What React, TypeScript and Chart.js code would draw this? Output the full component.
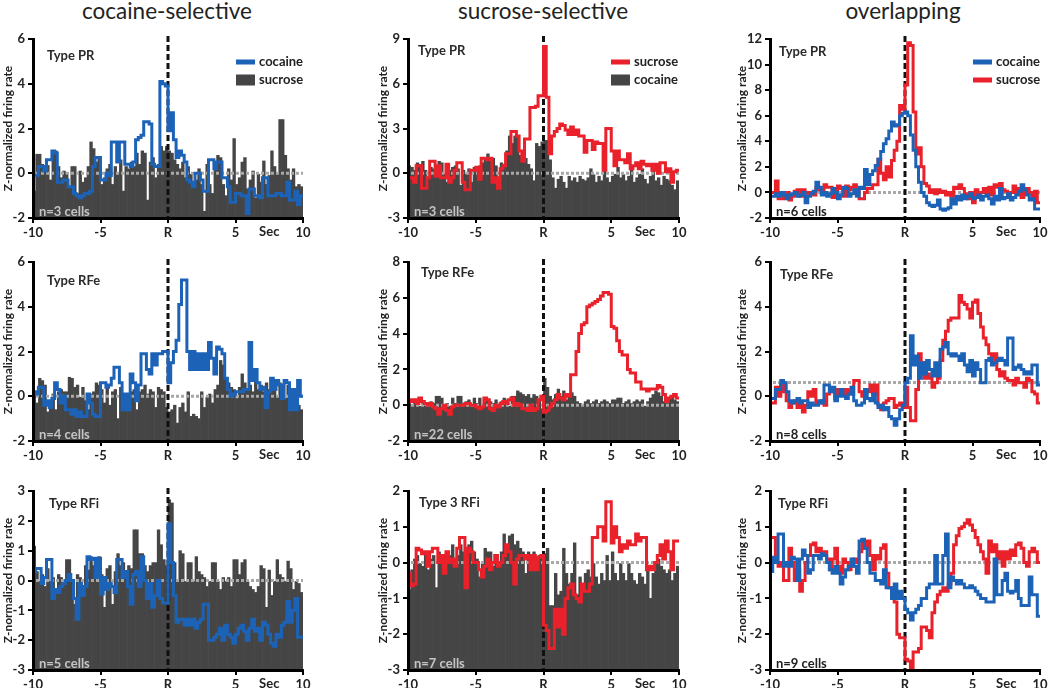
import React, { useEffect, useRef } from 'react';
import { Chart, registerables } from 'chart.js';

Chart.register(...registerables);

const FONT = 'Lato, "Open Sans", sans-serif';
const BAR_COLOR = '#454545';
const BLUE = '#1c63b7';
const RED = '#e8212b';

// ---- shared axis / bin definitions ----
const binStart = -10;
const binWidth = 0.2;
const xTickValues = [-10, -5, 0, 5, 10];
const xTickText = ['-10', '-5', 'R', '5', '10'];
const secLabel = 'Sec';
const columnTitles = ['cocaine-selective', 'sucrose-selective', 'overlapping'];
const typeLabels = ['Type PR', 'Type PR', 'Type PR', 'Type RFe', 'Type RFe', 'Type RFe', 'Type RFi', 'Type 3 RFi', 'Type RFi'];
const cellCounts = ['n=3 cells', 'n=3 cells', 'n=6 cells', 'n=4 cells', 'n=22 cells', 'n=8 cells', 'n=5 cells', 'n=7 cells', 'n=9 cells'];
const yMins = [-2, -3, -2, -2, -2, -2, -3, -3, -3];
const yMaxs = [6, 9, 12, 6, 8, 6, 3, 2, 2];
const ySteps = [2, 3, 2, 2, 2, 2, 1, 1, 1];
const baselines = [0, 0, 0, 0, 0, 0.62, 0, 0, 0];

// ---- Row 1: Type PR ----
const cocSelPR_sucrose = [
  -0.8, 0.85, 0.85, 0.4, 0.3, 0.35, -0.3, 0.9, 1.0, 0.3,
  -0.2, 0.1, 0.0, -0.6, 0.3, 0.3, -0.9, 0.1, -0.4, -0.2,
  0.3, 1.4, 1.1, 0.5, 0.7, -0.5, -0.2, 0.2, 0.4, -0.5,
  0.3, 0.0, 0.6, -0.8, 0.3, 0.2, 0.5, 0.3, 0.9, 0.4,
  1.0, 0.9, -1.2, 0.5, 0.7, -0.2, 0.4, 1.2, 1.0, 1.2,
  1.0, 0.9, 0.6, 0.4, 0.2, 0.5, -0.2, 0.3, 0.0, -0.4,
  -0.3, 0.2, -0.5, -1.7, 0.4, -0.5, -0.9, 0.2, 0.8, 0.7,
  -0.5, -1.0, 0.2, -0.3, 1.55, -0.5, -0.2, 0.5, 0.7, -0.7,
  -0.3, 0.1, -1.1, 0.0, -0.4, 0.55, -0.5, -0.1, 1.0, 0.3,
  0.0, 2.4, 2.4, 0.8, 0.2, -0.3, 0.2, -0.6, -0.5, -0.6,
];
const cocSelPR_cocaine = [
  -0.1, -0.1, 0.3, 0.3, 0.1, 0.6, 0.6, 1.0, 0.9, -0.4,
  -0.4, -0.3, -0.3, -0.6, -0.6, -0.9, -1.0, -1.1, -1.0, -0.9,
  -0.9, -0.8, 0.3, 0.7, 0.7, -0.3, -0.3, 0.0, -0.1, 1.4,
  1.4, 0.5, 1.4, 1.4, 0.4, 0.4, 0.3, 0.5, 1.5, 1.6,
  1.7, 2.3, 2.3, 2.2, 0.4, 0.3, 0.3, 4.1, 4.0, 3.9,
  1.9, 2.7, 1.5, 0.7, 1.0, 0.8, 0.5, -0.3, -0.4, -0.6,
  0.0, 0.0, -0.3, -0.8, -0.8, 0.6, 0.6, 0.2, 0.5, 0.5,
  -0.2, -0.2, -0.6, -1.3, -1.3, -0.9, -0.9, -1.0, -1.0, -1.8,
  -0.7, -0.7, -1.0, -1.0, -1.1, -0.2, -0.2, -1.0, -1.0, -1.0,
  -0.9, -0.9, -1.0, -1.0, -0.4, -1.2, -1.2, -0.8, -1.4, -1.0,
];
const sucSelPR_cocaine = [
  0.5, 0.4, 0.2, 0.7, 0.6, 0.8, 0.2, -0.4, 0.4, 0.3,
  0.5, 0.8, 0.7, 0.0, -0.6, 0.2, 0.4, 0.5, 0.3, -0.8,
  0.2, 0.0, 0.3, -0.6, 0.4, 0.1, 0.5, 0.7, 1.0, 1.3,
  0.9, 1.0, 0.5, -0.5, 0.7, 0.6, 1.5, 2.5, 2.0, 2.5,
  2.4, 1.2, 0.9, 1.0, 0.6, 0.3, -0.5, 2.0, 1.8, 2.1,
  2.2, 2.2, 0.9, -0.3, -1.0, -0.4, -0.2, -0.6, -1.0, -0.2,
  -0.5, -0.3, -0.6, -0.2, -0.4, -0.5, -0.3, 0.3, -0.1, -0.6,
  -0.2, -0.5, 0.4, -0.3, -0.6, -0.2, 0.0, 0.4, -0.3, -0.1,
  -0.5, -0.2, 0.3, -0.6, -0.3, 0.0, 0.3, -0.4, -0.7, -0.2,
  0.2, -0.5, -0.3, -0.8, -0.2, -0.4, -0.5, -0.8, -1.1, -0.5,
];
const sucSelPR_sucrose = [
  -0.3, -0.3, -0.6, 0.5, 0.5, -1.0, -1.0, -0.3, 0.8, 0.8,
  -0.2, 0.5, -0.3, -0.3, 0.6, -0.6, -0.3, 0.2, 0.7, 0.7,
  -0.6, -1.1, -1.1, 0.2, 0.2, 0.4, -0.4, 1.0, 1.0, 0.9,
  1.0, -0.6, -0.3, -1.0, 0.3, 0.5, 1.3, 1.3, 2.8, 2.8,
  2.5, 1.5, 0.8, 2.3, 2.3, 4.4, 4.4, 4.5, 5.2, 5.2,
  8.5, 5.1, 1.3, 2.5, 2.8, 3.0, 3.3, 3.2, 2.9, 2.6,
  3.1, 2.6, 2.9, 2.5, 2.5, 1.4, 2.2, 2.2, 1.6, 2.1,
  2.0, 2.0, 0.2, 3.0, 3.0, 1.5, 0.5, 1.5, 0.9, 0.9,
  0.7, 1.3, 0.3, 0.5, 0.7, 0.3, 0.8, 0.6, 0.5, 0.6,
  0.2, 0.6, 0.0, 0.7, 0.7, 0.1, 0.3, -0.6, 0.1, 0.2,
];
const ovlPR_cocaine = [
  -0.3, -0.3, -0.1, -0.3, 0.0, -0.2, -0.5, -0.2, -0.1, 0.0,
  -0.3, -0.2, 0.0, -0.8, -0.3, -0.1, 0.1, 0.8, 0.4, -0.2,
  0.0, -0.3, -0.1, 0.3, 0.0, -0.5, -0.2, 0.4, 0.3, -0.3,
  -0.1, 0.2, -0.3, 0.4, 0.3, 1.8, 0.6, 1.4, 1.7, 2.1,
  2.6, 3.2, 3.8, 4.2, 4.8, 5.5, 5.2, 5.3, 6.0, 6.2,
  6.3, 6.0, 4.5, 3.3, 2.0, 0.8, 0.0, -0.3, -0.8, -1.0,
  -1.1, -1.0, -0.6, -1.3, -1.4, -1.3, -1.2, -0.5, -0.9, -0.3,
  -0.6, -0.2, -0.5, -0.3, -0.1, -0.5, -0.4, -0.2, -0.6, -0.3,
  -0.2, -0.5, -0.9, -0.3, -0.6, 0.3, -0.5, -0.4, -0.1, -0.6,
  -0.4, -0.2, 0.1, 0.6, 0.2, -0.2, -0.6, -0.5, -1.3, -1.3,
];
const ovlPR_sucrose = [
  0.0, 0.0, 0.9, -0.5, -0.5, -0.2, 0.0, -0.6, -0.3, 0.1,
  0.2, -0.3, 0.2, 0.0, -0.2, 0.0, -0.2, 0.4, 0.2, 0.0,
  0.6, 0.4, 0.4, -0.4, 0.0, 0.5, 0.3, -0.3, 0.5, 0.2,
  0.4, 0.6, 0.2, -0.5, -0.5, 0.0, 0.3, 0.3, 0.6, 0.6,
  2.6, 1.5, 1.0, 2.0, 1.2, 2.5, 3.3, 4.0, 6.8, 6.5,
  8.4, 11.7, 11.5, 6.3, 3.0, 3.5, 2.0, 0.7, 0.5, 0.0,
  0.2, -0.1, 0.2, 0.0, 0.1, -0.2, 0.0, -0.3, 0.4, 0.3,
  0.6, 0.3, -0.1, -0.5, 0.0, -0.8, 0.2, -0.3, 0.0, 0.3,
  0.0, 0.4, -0.2, 0.6, 0.4, 0.7, 0.2, 0.1, -0.3, 0.0,
  0.5, 0.0, 0.3, -0.4, 0.1, 0.3, 0.0, -0.4, 0.1, -0.8,
];

// ---- Row 2: Type RFe ----
const cocSelRFe_sucrose = [
  0.1, -0.3, 0.8, 0.7, 0.5, -0.7, -0.5, 0.1, -0.6, 0.2,
  0.3, 0.2, 0.2, 0.85, 0.8, 0.4, 0.5, 0.0, 0.4, -0.2,
  -0.6, 0.1, 0.2, 0.6, 0.5, 0.3, -0.3, 0.5, -0.4, 0.2,
  0.3, -1.0, 0.4, -0.3, -0.2, -0.6, 0.2, 0.3, -0.6, 0.2,
  0.3, 0.5, 0.1, 0.3, 0.2, -0.5, 0.4, 0.3, 0.2, -0.5,
  -0.7, -0.6, -0.4, -1.2, -0.5, -0.3, -0.7, 0.2, -0.9, -0.8,
  -0.9, -1.0, 0.2, -0.5, 0.0, 0.1, -0.3, 0.3, 0.5, 1.6,
  1.4, 0.8, 0.6, 0.4, 0.3, -0.1, 0.4, 1.0, 0.6, 0.3,
  0.5, 0.2, 0.7, 0.3, 0.5, 0.2, 0.6, 0.3, 0.4, 0.7,
  0.0, 0.6, 0.3, -0.1, 0.5, 0.1, 0.3, -0.2, -0.4, -0.6,
];
const cocSelRFe_cocaine = [
  0.2, 0.1, 0.4, 0.4, -0.4, -0.2, -0.5, -0.1, 0.6, 0.3,
  -0.3, 0.0, -0.6, -0.6, -0.8, -0.6, -0.9, -0.7, -0.9, -0.9,
  0.1, -0.3, -0.8, -0.9, -0.9, 0.6, 0.6, 0.4, 0.5, 0.8,
  1.3, 1.3, 0.6, -0.6, 0.1, -0.6, 1.0, 0.6, -0.2, 0.5,
  1.9, 1.9, 1.2, 1.0, 1.9, 1.4, 1.9, 1.9, 2.0, 2.0,
  0.6, 1.5, 2.0, 2.5, 4.1, 5.2, 5.2, 2.0, 1.2, 2.0,
  1.2, 1.9, 1.2, 1.9, 1.2, 2.4, 1.7, 1.0, 2.2, 2.1,
  1.9, 0.8, 0.3, 0.0, 0.1, 0.2, 0.2, 0.2, 0.3, 0.3,
  2.4, 0.7, 1.2, 0.6, 0.3, 0.4, -0.5, 0.2, 0.8, 0.3,
  0.7, 0.5, -0.1, 0.7, 0.6, -0.6, 0.3, -0.6, 0.7, 0.0,
];
const sucSelRFe_cocaine = [
  0.1, 0.0, 0.2, 0.1, 0.0, 0.1, 0.0, -0.1, 0.2, 0.1,
  0.5, 0.5, 0.4, 0.0, 0.1, 0.0, 0.4, 0.1, 0.5, 0.5,
  0.1, 0.2, 0.3, -0.1, 0.4, 0.1, 0.4, 0.0, 0.2, 0.3,
  0.2, 0.1, 0.3, 0.0, 0.2, 0.4, 0.3, 0.0, 0.5, 0.5,
  0.8, 0.7, 0.6, 0.5, 0.6, 0.4, 0.6, 0.5, 0.3, -0.2,
  1.5, 1.0, 0.5, 0.3, 0.6, 0.9, 0.5, 0.8, 0.3, 0.6,
  0.7, 0.5, 0.2, 0.1, 0.0, 0.2, 0.3, 0.1, 0.2, 0.3,
  0.1, 0.2, 0.3, 0.2, 0.1, 0.3, 0.3, 0.4, 0.4, 0.1,
  0.2, 0.3, 0.1, 0.2, 0.3, 0.2, 0.3, 0.0, 0.2, 0.4,
  0.6, 0.8, 0.7, 0.5, 0.2, 0.3, 0.4, 0.5, 0.3, 0.2,
];
const sucSelRFe_sucrose = [
  0.3, 0.2, 0.3, 0.1, 0.4, 0.2, 0.1, 0.0, 0.1, -0.1,
  -0.2, -0.5, -0.2, 0.0, -0.3, -0.5, -0.1, 0.0, 0.0, 0.0,
  0.0, 0.1, 0.1, 0.0, 0.0, -0.1, -0.2, -0.1, 0.4, 0.3,
  -0.2, -0.3, 0.0, -0.1, 0.1, 0.2, 0.1, 0.3, 0.4, 0.0,
  0.1, 0.0, -0.2, -0.2, -0.3, 0.0, -0.3, -0.2, 0.3, 0.5,
  -0.4, -0.3, -0.1, 0.1, 0.3, 0.6, 0.4, 0.3, 0.6, 0.5,
  1.7, 1.7, 3.0, 4.0, 4.5, 4.6, 5.5, 5.6, 5.7, 5.8,
  5.9, 6.1, 6.3, 6.3, 6.2, 4.4, 4.3, 3.6, 3.0, 2.8,
  2.8, 2.0, 1.8, 1.8, 1.3, 1.3, 0.9, 0.9, 0.8, 0.9,
  0.9, 0.9, 1.1, 1.0, 0.6, 0.2, 0.4, 0.5, 0.6, 0.4,
];
const ovlRFe_cocaine = [
  -0.1, -0.1, 0.3, 0.3, 0.7, 0.6, 0.2, -0.2, -0.3, -0.2,
  -0.1, -0.3, -0.2, -0.2, -0.5, -0.3, -0.4, -0.4, -0.2, -0.3,
  0.5, 0.5, 0.2, 0.4, -0.2, 0.0, 0.3, 0.0, -0.1, 0.1,
  0.4, -0.2, -0.4, -0.4, -0.3, 0.3, -0.1, -0.2, 0.1, -0.3,
  -0.5, -0.4, -0.6, -0.5, -0.9, -1.0, -1.3, -1.0, -0.6, -0.4,
  0.6, 0.8, 2.7, 1.4, 1.8, 0.8, 1.5, 1.0, 1.6, 1.2,
  0.9, 1.5, 0.9, 2.1, 2.2, 2.4, 1.9, 1.8, 1.9, 1.8,
  1.6, 1.9, 1.4, 1.1, 1.6, 0.9, 1.5, 1.2, 0.6, 0.6,
  1.6, 1.7, 1.4, 1.5, 1.6, 1.7, 1.6, 1.4, 2.6, 2.6,
  1.2, 1.3, 1.4, 1.2, 1.0, 1.1, 1.0, 1.4, 1.4, 0.5,
];
const ovlRFe_sucrose = [
  -0.3, -0.3, 0.4, 0.0, 0.5, 0.2, -0.2, -0.5, -0.3, -0.2,
  -0.5, -0.3, -0.7, -0.4, 0.2, 0.0, 0.3, -0.3, -0.3, -0.2,
  -0.4, 0.1, 0.3, 0.2, -0.1, 0.3, 0.2, 0.1, 0.3, 0.2,
  0.1, 0.7, 0.7, 0.2, 0.0, 0.3, 0.2, 0.5, 0.1, 0.5,
  -0.4, -0.6, -0.3, -0.2, -0.1, -0.1, -0.5, -0.4, -0.3, -0.5,
  0.4, -0.5, -1.1, -1.1, 0.3, 1.9, 1.5, 0.8, 1.0, 0.8,
  0.4, 0.6, 0.8, 1.6, 2.5, 2.9, 3.4, 3.5, 3.5, 3.5,
  4.5, 4.2, 4.1, 3.9, 3.5, 4.2, 4.3, 3.7, 3.1, 2.6,
  2.3, 1.9, 1.6, 1.9, 1.2, 0.9, 1.1, 0.8, 0.7, 0.7,
  0.5, 0.8, 0.6, 0.6, 0.4, 0.8, 0.7, 0.2, 0.1, -0.3,
];

// ---- Row 3: Type RFi ----
const cocSelRFi_sucrose = [
  1.15, 0.3, 0.0, 0.2, -0.2, 0.4, 0.0, 0.1, -0.3, 0.2,
  0.1, 0.0, 0.7, 0.7, 0.0, -0.8, 0.2, 0.1, -0.2, 0.5,
  0.35, 0.8, 0.5, 0.4, 0.8, 0.2, -0.9, 0.4, 0.5, -0.8,
  0.3, 0.9, 0.5, 0.6, 0.3, 0.5, 0.4, 1.7, 1.7, 0.9,
  0.9, 0.5, 0.3, 0.5, 0.6, 0.6, 1.7, 1.2, 0.7, 0.5,
  2.7, 2.6, 0.6, 0.0, 1.0, 0.9, 0.0, 0.6, 0.6, 0.0,
  0.8, 0.3, 0.2, 0.1, -0.2, 0.0, 0.6, 0.6, 0.0, -0.3,
  0.1, 0.0, 0.1, -0.2, 0.7, 0.7, 0.2, 0.6, 0.7, 0.0,
  -0.2, -0.3, -0.4, -0.2, 0.5, 0.4, -0.9, 0.35, -0.5, 0.0,
  0.7, 0.2, 0.1, 0.0, 0.65, 0.4, -0.3, 0.0, -0.1, -0.4,
];
const cocSelRFi_cocaine = [
  0.3, 0.4, 0.4, -0.1, 0.1, 0.7, 0.7, -0.6, -0.3, -0.4,
  -0.2, -0.1, 0.0, 0.2, 0.0, -0.6, -1.3, -0.1, -0.5, -0.2,
  0.8, 0.7, 0.75, 0.1, 0.75, -0.45, 0.1, -0.3, -0.1, -0.2,
  -0.4, 0.7, 0.7, 0.1, 0.3, -0.2, -0.8, 0.2, 0.3, -0.2,
  0.8, 0.0, -0.6, -0.1, -0.9, -0.5, 0.0, -0.6, -0.75, -0.75,
  1.9, 0.6, -0.5, -1.4, -1.3, -1.3, -1.5, -1.3, -1.5, -1.3,
  -1.6, -1.4, -1.3, -0.8, -0.8, -2.0, -2.0, -1.9, -1.8, -1.6,
  -2.0, -1.5, -1.8, -1.9, -2.1, -1.8, -1.6, -1.5, -1.7, -2.0,
  -1.6, -1.3, -1.7, -1.6, -2.0, -1.4, -1.5, -1.8, -2.1, -2.2,
  -1.8, -1.9, -1.5, -1.4, -0.7, -1.4, -1.0, -0.6, -1.9, -1.9,
];
const sucSelRFi_cocaine = [
  -0.75, -0.2, 0.1, 0.2, 0.0, -0.1, 0.3, -0.2, 0.1, 0.2,
  -0.7, 0.3, 0.2, -0.1, 0.3, 0.2, 0.5, 0.0, 0.2, 0.5,
  0.3, 0.4, 0.5, 0.6, 0.3, 0.1, -0.4, 0.0, 0.4, 0.3,
  0.3, -0.1, 0.2, 0.0, 0.3, 0.8, 0.5, 0.75, 0.8, 0.5,
  0.6, 0.4, 0.3, -0.3, 0.3, 0.2, 0.3, 0.1, 0.2, 0.2,
  0.25, 0.4, -1.2, -1.2, -0.3, -0.9, -0.8, 0.4, -0.3, -0.6,
  -0.3, 0.55, -0.9, -0.4, -0.7, -0.3, -0.2, -0.4, 0.0, -0.4,
  -0.6, -0.3, -0.5, 0.2, -0.5, 0.3, -0.3, -0.5, 0.0, -0.3,
  -0.5, 0.0, -0.3, -0.5, -0.6, -0.3, -0.4, -0.6, -0.2, -1.0,
  -0.3, 0.0, 0.1, -0.1, -0.2, -0.3, -0.2, -0.5, -0.3, -0.1,
];
const sucSelRFi_sucrose = [
  -0.3, -0.65, -0.6, 0.4, 0.35, 0.25, 0.3, -0.1, 0.3, 0.4,
  0.4, 0.0, 0.2, -0.3, 0.3, 0.0, 0.1, -0.1, 0.4, 0.7,
  0.7, -0.7, 0.4, 0.3, 0.0, 0.0, -0.2, -0.4, -0.1, 0.1,
  -0.2, 0.0, 0.2, -0.1, 0.0, 0.2, 0.5, 0.3, 0.0, -0.6,
  0.1, 0.2, 0.2, 0.1, 0.2, -0.2, 0.2, -0.2, 0.15, 0.2,
  -1.75, -1.9, -2.4, -2.4, -1.3, -1.8, -1.3, -2.0, -1.0, -0.7,
  -0.6, -0.9, -1.0, -1.1, -0.6, -0.8, -0.8, -0.6, 0.7, 0.7,
  1.0, 1.0, 0.6, 1.7, 1.7, 0.55, 1.0, 0.7, 0.3, 0.5,
  0.4, 0.6, 0.5, 0.5, 0.8, 0.6, 0.7, 0.7, -0.2, -0.1,
  -0.2, 0.0, 0.2, 0.5, 0.1, 0.6, 0.3, -0.2, 0.6, 0.6,
];
const ovlRFi_cocaine = [
  -0.25, 0.15, 0.0, 0.8, 0.8, -0.1, 0.0, -0.1, 0.15, 0.1,
  -0.5, 0.1, 0.35, 0.2, -0.3, -0.2, 0.2, 0.2, 0.1, 0.25,
  0.2, 0.0, -0.2, -0.3, -0.1, -0.3, -0.6, -0.4, -0.2, -0.1,
  0.1, -0.1, -0.3, 0.6, 0.65, 0.4, 0.0, -0.3, -0.3, -0.5,
  -0.5, -0.6, -0.2, -0.7, -0.7, -1.0, -0.6, -1.0, -0.8, -1.0,
  -1.3, -1.4, -1.6, -1.4, -1.3, -1.2, -1.0, -1.0, -0.7, -0.6,
  -0.6, 0.2, -0.6, -0.6, 0.2, 0.8, -0.7, -0.4, -0.5, -0.6,
  -0.5, -0.6, -0.7, -0.7, -0.65, -0.7, -0.8, -0.9, -1.0, -1.0,
  -1.1, -1.1, -1.1, 0.1, -0.9, -0.9, -0.5, -0.3, -0.8, -0.85,
  -0.8, -0.5, -1.0, -1.2, -1.2, -1.2, -0.4, -0.9, -0.9, -1.5,
];
const ovlRFi_sucrose = [
  0.7, 0.7, 0.0, -0.1, 0.0, -0.5, -0.5, 0.4, 0.0, -0.5,
  -0.2, -0.8, -0.5, 0.0, 0.2, 0.5, 0.55, 0.3, 0.4, 0.3,
  0.3, 0.1, -0.2, 0.1, 0.4, -0.1, -0.3, 0.1, 0.0, -0.2,
  -0.1, 0.1, 0.0, 0.3, 0.6, 0.4, 0.6, 0.2, -0.2, 0.2,
  0.1, 0.4, 0.5, -0.3, -0.7, -0.7, -1.1, -2.0, -2.1, -2.1,
  -2.7, -2.75, -3.0, -2.5, -2.5, -2.4, -1.8, -1.8, -1.9, -2.1,
  -1.4, -1.1, -0.9, -0.8, -0.7, -0.8, -0.6, -0.3, 0.5, 0.75,
  0.95, 1.0, 1.1, 1.2, 1.05, 0.9, 0.7, 0.5, 0.3, 0.1,
  -0.3, 0.6, 0.3, 0.5, 0.1, 0.3, -0.1, 0.3, 0.1, 0.35,
  0.2, 0.5, 0.55, 0.4, 0.0, -0.1, 0.3, 0.4, 0.3, 0.0,
];

// ---- layout (styling only) ----
const colGeo = [
  { left: 0, width: 340, axisW: 33, padR: 37, titleX: 8, titleCenter: 167 },
  { left: 370, width: 330, axisW: 38, padR: 21, titleX: 13, titleCenter: 543 },
  { left: 730, width: 320, axisW: 40, padR: 10, titleX: 12, titleCenter: 903 },
];
const rowGeo = [
  { top: 26, height: 219, padT: 13, axisH: 27 },
  { top: 248, height: 214, padT: 14, axisH: 21 },
  { top: 476, height: 212, padT: 15, axisH: 18 },
];
const typeOffsets = [[14, 17], [10, 12], [9, 13], [14, 19], [13, 11], [10, 13], [16, 13], [11, 12], [8, 13]];

type LineSpec = { vals: number[]; color: string; order: number };
type LegendItem = { label: string; kind: 'line' | 'box'; color: string };
type PanelSpec = {
  idx: number;
  bars?: number[];
  lines: LineSpec[];
  legend?: LegendItem[];
};

const panels: PanelSpec[] = [
  { idx: 0, bars: cocSelPR_sucrose, lines: [{ vals: cocSelPR_cocaine, color: BLUE, order: 1 }],
    legend: [{ label: 'cocaine', kind: 'line', color: BLUE }, { label: 'sucrose', kind: 'box', color: BAR_COLOR }] },
  { idx: 1, bars: sucSelPR_cocaine, lines: [{ vals: sucSelPR_sucrose, color: RED, order: 1 }],
    legend: [{ label: 'sucrose', kind: 'line', color: RED }, { label: 'cocaine', kind: 'box', color: BAR_COLOR }] },
  { idx: 2, lines: [{ vals: ovlPR_sucrose, color: RED, order: 2 }, { vals: ovlPR_cocaine, color: BLUE, order: 1 }],
    legend: [{ label: 'cocaine', kind: 'line', color: BLUE }, { label: 'sucrose', kind: 'line', color: RED }] },
  { idx: 3, bars: cocSelRFe_sucrose, lines: [{ vals: cocSelRFe_cocaine, color: BLUE, order: 1 }] },
  { idx: 4, bars: sucSelRFe_cocaine, lines: [{ vals: sucSelRFe_sucrose, color: RED, order: 1 }] },
  { idx: 5, lines: [{ vals: ovlRFe_sucrose, color: RED, order: 2 }, { vals: ovlRFe_cocaine, color: BLUE, order: 1 }] },
  { idx: 6, bars: cocSelRFi_sucrose, lines: [{ vals: cocSelRFi_cocaine, color: BLUE, order: 1 }] },
  { idx: 7, bars: sucSelRFi_cocaine, lines: [{ vals: sucSelRFi_sucrose, color: RED, order: 1 }] },
  { idx: 8, lines: [{ vals: ovlRFi_sucrose, color: RED, order: 2 }, { vals: ovlRFi_cocaine, color: BLUE, order: 1 }] },
];

function stepPoints(vals: number[]) {
  const pts: { x: number; y: number }[] = [];
  vals.forEach((v, i) => {
    const x0 = binStart + i * binWidth;
    pts.push({ x: x0, y: v }, { x: x0 + binWidth, y: v });
  });
  return pts;
}

function barPoints(vals: number[], yMin: number) {
  return vals.map((v, i) => ({ x: binStart + (i + 0.5) * binWidth, y: [yMin, v] }));
}

function makeExtras(spec: PanelSpec) {
  const i = spec.idx;
  const col = colGeo[i % 3];
  let refsDrawn = false;
  const drawRefs = (chart: any) => {
    const { ctx, chartArea: a, scales } = chart;
    ctx.save();
    const yb = scales.y.getPixelForValue(baselines[i]);
    ctx.strokeStyle = '#a8a8a8';
    ctx.lineWidth = 3;
    ctx.setLineDash([3, 2]);
    ctx.beginPath();
    ctx.moveTo(a.left + 3, yb);
    ctx.lineTo(a.right, yb);
    ctx.stroke();
    const xr = scales.x.getPixelForValue(0);
    ctx.strokeStyle = '#111';
    ctx.lineWidth = 3;
    ctx.setLineDash([6, 3]);
    ctx.beginPath();
    ctx.moveTo(xr, a.top - 3);
    ctx.lineTo(xr, a.bottom);
    ctx.stroke();
    ctx.restore();
  };
  return {
    id: 'extras' + i,
    beforeDatasetsDraw() {
      refsDrawn = false;
    },
    beforeDatasetDraw(chart: any, args: any) {
      if (!refsDrawn && args.meta.type === 'line') {
        drawRefs(chart);
        refsDrawn = true;
      }
    },
    afterDatasetsDraw(chart: any) {
      if (!refsDrawn) {
        drawRefs(chart);
        refsDrawn = true;
      }
    },
    afterDraw(chart: any) {
      const { ctx, chartArea: a, scales } = chart;
      ctx.save();
      // y title
      ctx.save();
      ctx.translate(col.titleX, (a.top + a.bottom) / 2);
      ctx.rotate(-Math.PI / 2);
      ctx.font = `bold 12px ${FONT}`;
      ctx.fillStyle = '#222';
      ctx.textAlign = 'center';
      ctx.textBaseline = 'middle';
      ctx.fillText('Z-normalized firing rate', 0, 0);
      ctx.restore();
      // Sec label
      ctx.font = `bold 13px ${FONT}`;
      ctx.fillStyle = '#222';
      ctx.textAlign = 'center';
      ctx.textBaseline = 'middle';
      ctx.fillText(secLabel, scales.x.getPixelForValue(7.5), a.bottom + 14);
      // type label
      ctx.textAlign = 'left';
      ctx.font = `bold 13px ${FONT}`;
      ctx.fillStyle = '#2a2a2a';
      ctx.fillText(typeLabels[i], a.left + typeOffsets[i][0], a.top + typeOffsets[i][1]);
      // n cells
      ctx.fillStyle = spec.bars ? '#c4c4c4' : '#222';
      ctx.fillText(cellCounts[i], a.left + 6, a.bottom - 6);
      // legend
      if (spec.legend) {
        spec.legend.forEach((item, k) => {
          const yy = a.top + (k === 0 ? 23 : 41);
          const x0 = a.left + 203;
          ctx.fillStyle = item.color;
          if (item.kind === 'line') ctx.fillRect(x0, yy - 2.5, 19, 5);
          else ctx.fillRect(x0, yy - 5.5, 19, 11);
          ctx.fillStyle = '#222';
          ctx.font = `bold 13px ${FONT}`;
          ctx.fillText(item.label, x0 + 23, yy);
        });
      }
      ctx.restore();
    },
  };
}

function Panel({ spec }: { spec: PanelSpec }) {
  const ref = useRef<HTMLCanvasElement>(null);
  const i = spec.idx;
  const col = colGeo[i % 3];
  const row = rowGeo[Math.floor(i / 3)];
  useEffect(() => {
    const yMin = yMins[i];
    const datasets: any[] = [];
    spec.lines.forEach((ln) => {
      datasets.push({
        type: 'line',
        data: stepPoints(ln.vals),
        borderColor: ln.color,
        borderWidth: 3,
        pointRadius: 0,
        tension: 0,
        fill: false,
        order: ln.order,
        borderJoinStyle: 'miter',
      });
    });
    if (spec.bars) {
      datasets.push({
        type: 'bar',
        data: barPoints(spec.bars, yMin),
        backgroundColor: BAR_COLOR,
        borderWidth: 0,
        barPercentage: 1,
        categoryPercentage: 1,
        order: 5,
      });
    }
    const tickFont = { family: FONT, size: 13, weight: 'bold' as const };
    const chart = new Chart(ref.current as HTMLCanvasElement, {
      type: 'bar',
      data: { datasets },
      options: {
        animation: false,
        responsive: false,
        devicePixelRatio: 1,
        events: [],
        layout: { autoPadding: false, padding: { left: 0, top: row.padT, right: col.padR, bottom: 0 } },
        plugins: { legend: { display: false }, tooltip: { enabled: false } },
        scales: {
          x: {
            type: 'linear',
            min: -10,
            max: 10,
            offset: false,
            afterBuildTicks: (axis: any) => {
              axis.ticks = xTickValues.map((v) => ({ value: v }));
            },
            afterFit: (scale: any) => {
              scale.height = row.axisH;
            },
            ticks: {
              autoSkip: false,
              maxRotation: 0,
              padding: 2,
              color: '#222',
              font: tickFont,
              callback: (v: any) => xTickText[xTickValues.indexOf(Number(v))] ?? '',
            },
            grid: { display: true, drawOnChartArea: false, drawTicks: true, tickLength: 5, color: '#000', lineWidth: 2, offset: false },
            border: { display: true, color: '#000', width: 3, z: 1 },
          },
          y: {
            type: 'linear',
            min: yMin,
            max: yMaxs[i],
            afterFit: (scale: any) => {
              scale.width = col.axisW;
            },
            ticks: { stepSize: ySteps[i], padding: 3, color: '#222', font: tickFont },
            grid: { display: true, drawOnChartArea: false, drawTicks: true, tickLength: 5, color: '#000', lineWidth: 2 },
            border: { display: true, color: '#000', width: 3, z: 1 },
          },
        },
      } as any,
      plugins: [makeExtras(spec)],
    });
    return () => chart.destroy();
  }, []);
  return (
    <canvas
      ref={ref}
      width={col.width}
      height={row.height}
      style={{ position: 'absolute', left: col.left, top: row.top, width: col.width, height: row.height }}
    />
  );
}

export default function App() {
  return (
    <div style={{ position: 'absolute', left: 0, top: 0, width: 1050, height: 688, background: '#fff', overflow: 'hidden' }}>
      {columnTitles.map((t, c) => (
        <div
          key={t}
          style={{
            position: 'absolute',
            left: colGeo[c].titleCenter - 150,
            top: -1,
            width: 300,
            textAlign: 'center',
            fontFamily: FONT,
            fontSize: 22.5,
            lineHeight: '24px',
            color: '#222',
          }}
        >
          {t}
        </div>
      ))}
      {panels.map((p) => (
        <Panel key={p.idx} spec={p} />
      ))}
    </div>
  );
}
